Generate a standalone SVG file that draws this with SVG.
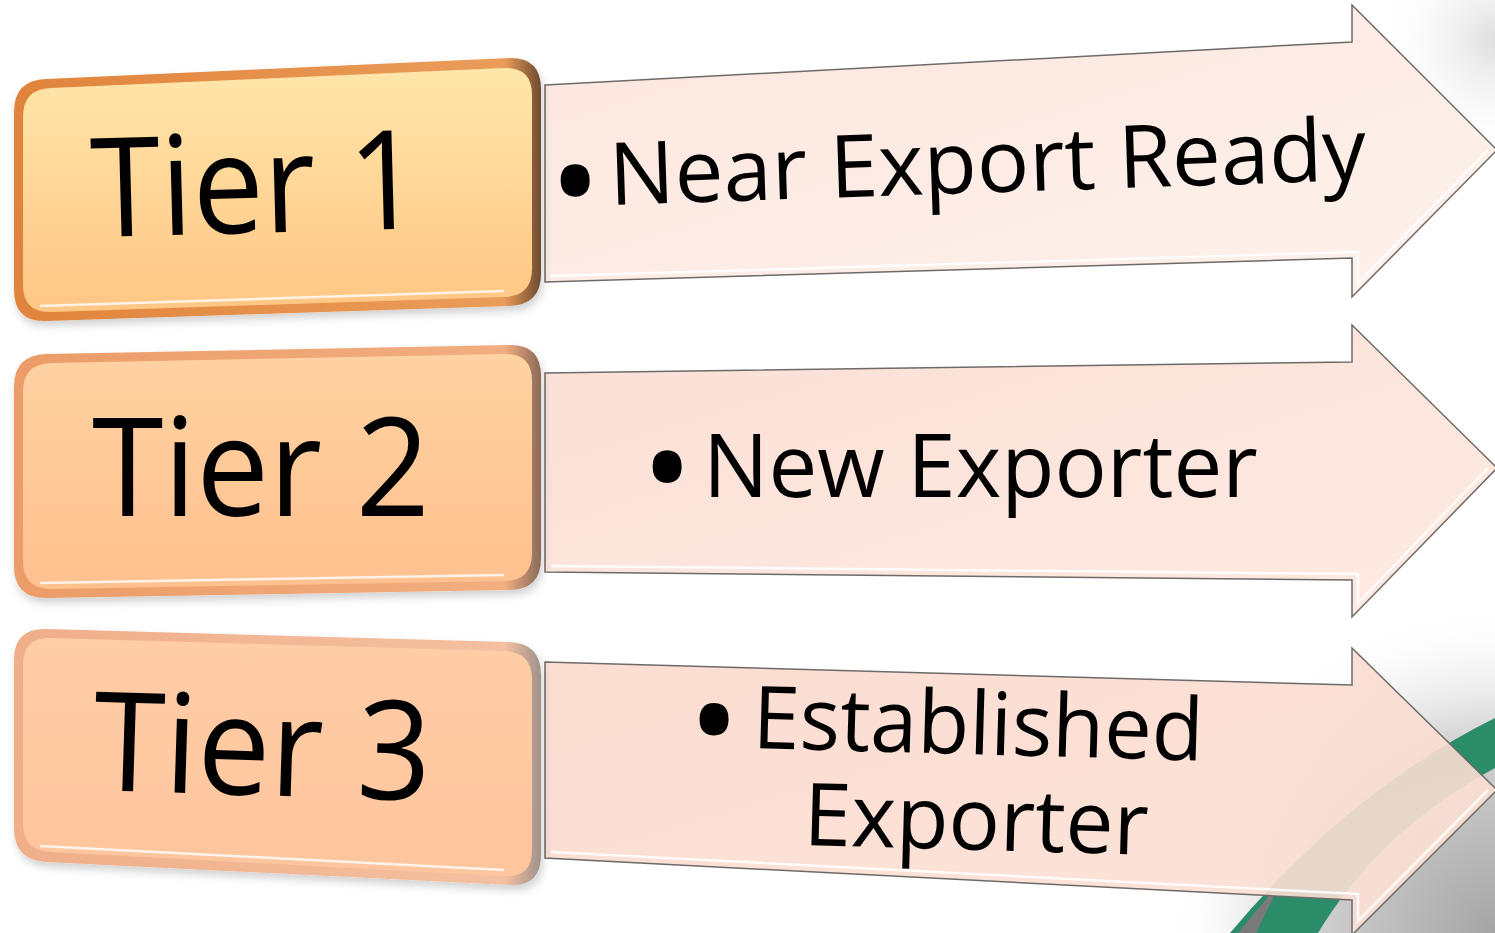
<svg xmlns="http://www.w3.org/2000/svg" width="1495" height="933" viewBox="0 0 1495 933">
<defs>
<radialGradient id="bgGray" cx="1495" cy="933" r="330" gradientUnits="userSpaceOnUse">
<stop offset="0" stop-color="#a5a5a5"/>
<stop offset="0.6" stop-color="#d4d4d4"/>
<stop offset="1" stop-color="#ffffff" stop-opacity="0"/>
</radialGradient>
<radialGradient id="edgeGray" cx="1495" cy="40" r="120" gradientUnits="userSpaceOnUse">
<stop offset="0" stop-color="#d0d0d0"/>
<stop offset="1" stop-color="#ffffff" stop-opacity="0"/>
</radialGradient>
<linearGradient id="t1in" x1="0" y1="0" x2="0" y2="1">
<stop offset="0" stop-color="#ffe6aa"/>
<stop offset="1" stop-color="#ffc684"/>
</linearGradient>
<linearGradient id="t2in" x1="0" y1="0" x2="0" y2="1">
<stop offset="0" stop-color="#ffd2a2"/>
<stop offset="1" stop-color="#ffc08e"/>
</linearGradient>
<linearGradient id="t3in" x1="0" y1="0" x2="0" y2="1">
<stop offset="0" stop-color="#ffcda6"/>
<stop offset="1" stop-color="#ffc59d"/>
</linearGradient>
<linearGradient id="t1b" x1="0" y1="0" x2="1" y2="0">
<stop offset="0" stop-color="#e0843c"/>
<stop offset="0.93" stop-color="#eb9c5a"/>
<stop offset="1" stop-color="#6e4a30"/>
</linearGradient>
<linearGradient id="t2b" x1="0" y1="0" x2="1" y2="0">
<stop offset="0" stop-color="#eb9c68"/>
<stop offset="0.93" stop-color="#f2ae80"/>
<stop offset="1" stop-color="#8a6a58"/>
</linearGradient>
<linearGradient id="t3b" x1="0" y1="0" x2="1" y2="0">
<stop offset="0" stop-color="#efae88"/>
<stop offset="0.93" stop-color="#f5c0a0"/>
<stop offset="1" stop-color="#a0928a"/>
</linearGradient>
<linearGradient id="a1" x1="0" y1="0" x2="1" y2="1">
<stop offset="0" stop-color="#fce6de"/>
<stop offset="1" stop-color="#fdf2ec"/>
</linearGradient>
<linearGradient id="a2" x1="0" y1="0" x2="1" y2="1">
<stop offset="0" stop-color="#fbe0d6"/>
<stop offset="1" stop-color="#fdeae2"/>
</linearGradient>
<linearGradient id="a3" x1="0" y1="0" x2="1" y2="1">
<stop offset="0" stop-color="#fbd9cc"/>
<stop offset="1" stop-color="#fbe1d6"/>
</linearGradient>
<filter id="shadow" x="-5%" y="-5%" width="110%" height="115%">
<feDropShadow dx="2" dy="5" stdDeviation="4" flood-color="#000" flood-opacity="0.18"/>
</filter>
</defs>
<style>
.tier{font-family:"Open Sans","DejaVu Sans",sans-serif;font-size:138px;fill:#000;}
.lbl{font-family:"Open Sans","DejaVu Sans",sans-serif;font-size:87px;fill:#000;}
.bul{font-family:"Open Sans","DejaVu Sans",sans-serif;font-size:139px;fill:#000;}
.aout{stroke:#6e6a68;stroke-width:1.5;stroke-linejoin:miter;}
.ahi{fill:none;stroke:#ffffff;stroke-width:2.5;stroke-opacity:0.85;}
.hl{fill:none;stroke:#ffffff;stroke-width:2.5;stroke-opacity:0.8;}
</style>

<g id="background">
<rect x="1100" y="560" width="395" height="373" fill="url(#bgGray)"/>
<rect x="1370" y="0" width="125" height="170" fill="url(#edgeGray)" opacity="0.7"/>
<path d="M1230,933 Q1350,790 1495,718 L1495,768 Q1380,830 1318,933 Z" fill="#2a8c68"/>
<path d="M1238,933 L1282,880 L1256,933 Z" fill="#7a7a7a"/>
</g>

<g id="connectors">
<g id="arrow1">
<polygon class="aout" fill="url(#a1)" points="545,85 1352,42 1352,5 1497,150 1352,297 1352,258 545,282"/>
<polyline class="ahi" points="551,276 1358,252 1358,283 1488,150"/>
</g>
<g id="arrow2">
<polygon class="aout" fill="url(#a2)" points="545,373 1352,362 1352,325 1497,468 1352,617 1352,580 545,572"/>
<polyline class="ahi" points="551,566 1358,574 1358,603 1488,468"/>
</g>
<g id="arrow3">
<polygon class="aout" fill="url(#a3)" fill-opacity="0.9" points="545,662 1352,685 1352,648 1497,790 1352,935 1352,900 545,858"/>
<polyline class="ahi" points="551,852 1358,894 1358,921 1488,790"/>
</g>
</g>

<g id="tier1" filter="url(#shadow)">
<path fill="url(#t1b)" d="M14,112 Q14,80 46,79 L509,58 Q541,57 541,89 L541,274 Q541,305 509,306 L46,321 Q14,322 14,290 Z"/>
<path fill="url(#t1in)" d="M23,117 Q23,89 51,88 L504,68 Q532,67 532,95 L532,269 Q532,296 504,297 L51,312 Q23,313 23,285 Z"/>
<path class="hl" d="M40,306 L504,291"/>
<text class="tier" x="92" y="237" textLength="330" lengthAdjust="spacingAndGlyphs" transform="rotate(-1.5 92 237)">Tier 1</text>
</g>

<g id="tier2" filter="url(#shadow)">
<path fill="url(#t2b)" d="M14,387 Q14,355 46,354 L509,345 Q541,344 541,376 L541,558 Q541,590 509,590 L46,598 Q14,598 14,566 Z"/>
<path fill="url(#t2in)" d="M23,392 Q23,364 51,363 L504,354 Q532,353 532,381 L532,553 Q532,581 504,581 L51,589 Q23,589 23,561 Z"/>
<path class="hl" d="M40,583 L504,575"/>
<text class="tier" x="92" y="516" textLength="338" lengthAdjust="spacingAndGlyphs">Tier 2</text>
</g>

<g id="tier3" filter="url(#shadow)">
<path fill="url(#t3b)" d="M14,660 Q14,628 46,629 L509,642 Q541,643 541,675 L541,855 Q541,887 509,885 L46,862 Q14,860 14,828 Z"/>
<path fill="url(#t3in)" d="M23,665 Q23,637 51,638 L504,651 Q532,652 532,680 L532,850 Q532,878 504,876 L51,852 Q23,851 23,823 Z"/>
<path class="hl" d="M40,846 L504,870"/>
<text class="tier" x="92" y="790" textLength="338" lengthAdjust="spacingAndGlyphs" transform="rotate(1.8 92 790)">Tier 3</text>
</g>

<g id="label1">
<text class="bul" x="549" y="231" transform="rotate(-1.9 578 178)">•</text>
<text class="lbl" x="610" y="205" transform="rotate(-1.9 610 205)">Near Export Ready</text>
</g>
<g id="label2">
<text class="bul" x="641" y="518">•</text>
<text class="lbl" x="703" y="497">New Exporter</text>
</g>
<g id="label3">
<text class="bul" x="688" y="770" transform="rotate(1.6 717 717)">•</text>
<text class="lbl" x="752" y="748" textLength="451" lengthAdjust="spacingAndGlyphs" transform="rotate(1.6 752 748)">Established</text>
<text class="lbl" x="803" y="845" textLength="345" lengthAdjust="spacingAndGlyphs" transform="rotate(1.6 803 845)">Exporter</text>
</g>
</svg>
